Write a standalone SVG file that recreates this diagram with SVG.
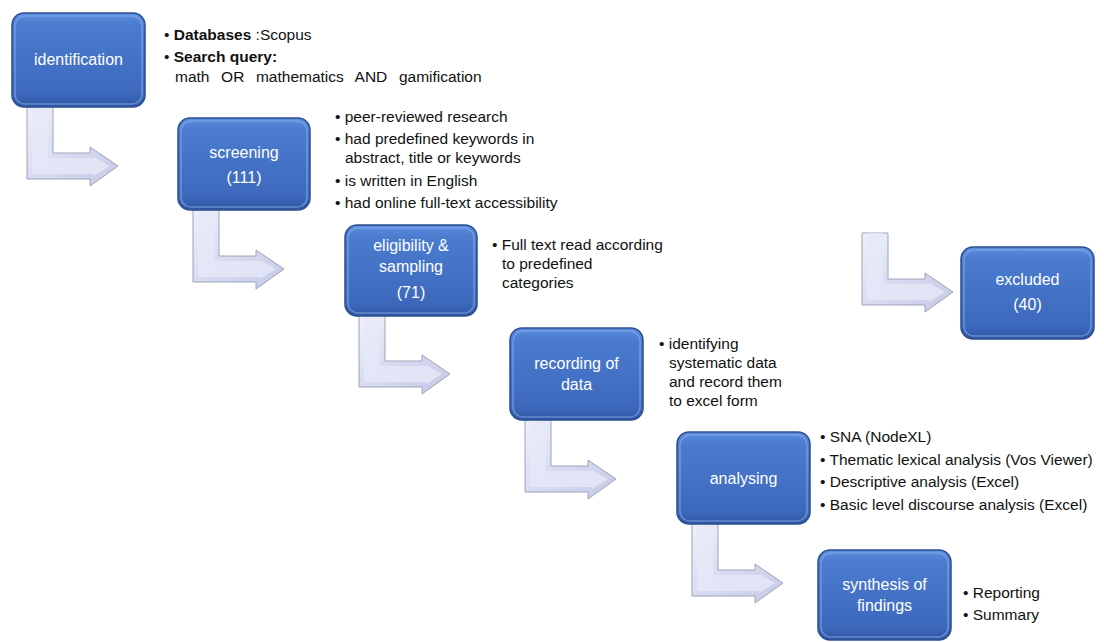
<svg xmlns="http://www.w3.org/2000/svg" xmlns:xlink="http://www.w3.org/1999/xlink" width="1104" height="642" viewBox="0 0 1104 642">
<defs>
<linearGradient id="boxg" x1="0" y1="0" x2="0" y2="1">
<stop offset="0" stop-color="#5d8fe0"/>
<stop offset="0.12" stop-color="#4b7ccf"/>
<stop offset="0.85" stop-color="#3d69bd"/>
<stop offset="1" stop-color="#2f56a2"/>
</linearGradient>
<linearGradient id="arrg" x1="0" y1="0" x2="1" y2="1">
<stop offset="0" stop-color="#eef0fb"/>
<stop offset="0.5" stop-color="#d7dbf1"/>
<stop offset="1" stop-color="#c4c9e6"/>
</linearGradient>
<path id="arr" d="M0,0 H26 V46 H63 V40 L91,59 L63,79 V72 H0 Z"/>
<path id="arrin" d="M5,0 H21 V51 H67 V50 L83,59 L67,69 V67 H5 Z"/>
</defs>
<style>
.box{fill:url(#boxg);stroke:#2b4e90;stroke-width:1.5}
.hl{fill:none;stroke:#8fb1ee;stroke-width:1.5;opacity:0.55}
.bt{font-family:"Liberation Sans",Arial,sans-serif;font-size:16px;fill:#ffffff;text-anchor:middle}
.tx{font-family:"Liberation Sans",Arial,sans-serif;font-size:15.5px;fill:#111111}
.b{font-weight:bold}
.ar{fill:url(#arrg);stroke:#9ea2b6;stroke-width:1}
.ai{fill:#e6e9f8;stroke:none;opacity:0.8}
</style>
<rect width="1104" height="642" fill="#ffffff"/>

<g id="connectors">
<g transform="translate(27,107)"><use xlink:href="#arr" class="ar"/><use xlink:href="#arrin" class="ai"/></g>
<g transform="translate(193,210)"><use xlink:href="#arr" class="ar"/><use xlink:href="#arrin" class="ai"/></g>
<g transform="translate(359,315)"><use xlink:href="#arr" class="ar"/><use xlink:href="#arrin" class="ai"/></g>
<g transform="translate(525,420)"><use xlink:href="#arr" class="ar"/><use xlink:href="#arrin" class="ai"/></g>
<g transform="translate(692,524)"><use xlink:href="#arr" class="ar"/><use xlink:href="#arrin" class="ai"/></g>
<g transform="translate(862,233)"><use xlink:href="#arr" class="ar"/><use xlink:href="#arrin" class="ai"/></g>
</g>

<g id="identification">
<rect class="box" x="12" y="13" width="133" height="94" rx="12"/>
<rect class="hl" x="15" y="16" width="127" height="88" rx="10"/>
<text class="bt" x="78.5" y="65">identification</text>
<text class="tx" x="164" y="40">• <tspan class="b">Databases</tspan> :Scopus</text>
<text class="tx" x="164" y="62">• <tspan class="b">Search query:</tspan></text>
<text class="tx" x="175" y="82" xml:space="preserve" word-spacing="1.5">math  OR  mathematics  AND  gamification</text>
</g>

<g id="screening">
<rect class="box" x="178" y="118" width="132" height="92" rx="12"/>
<rect class="hl" x="181" y="121" width="126" height="86" rx="10"/>
<text class="bt" x="244" y="158">screening</text>
<text class="bt" x="244" y="183">(111)</text>
<text class="tx" x="335" y="122">• peer-reviewed research</text>
<text class="tx" x="335" y="144">• had predefined keywords in</text>
<text class="tx" x="345" y="163">abstract, title or keywords</text>
<text class="tx" x="335" y="186">• is written in English</text>
<text class="tx" x="335" y="208">• had online full-text accessibility</text>
</g>

<g id="eligibility">
<rect class="box" x="345" y="225" width="132" height="91" rx="12"/>
<rect class="hl" x="348" y="228" width="126" height="85" rx="10"/>
<text class="bt" x="411" y="251">eligibility &amp;</text>
<text class="bt" x="411" y="272">sampling</text>
<text class="bt" x="411" y="298">(71)</text>
<text class="tx" x="492" y="250">• Full text read according</text>
<text class="tx" x="502" y="269">to predefined</text>
<text class="tx" x="502" y="288">categories</text>
</g>

<g id="recording">
<rect class="box" x="510" y="328" width="133" height="92" rx="12"/>
<rect class="hl" x="513" y="331" width="127" height="86" rx="10"/>
<text class="bt" x="576.5" y="369">recording of</text>
<text class="bt" x="576.5" y="390">data</text>
<text class="tx" x="659" y="349">• identifying</text>
<text class="tx" x="669" y="368">systematic data</text>
<text class="tx" x="669" y="387">and record them</text>
<text class="tx" x="669" y="406">to excel form</text>
</g>

<g id="analysing">
<rect class="box" x="677" y="432" width="133" height="92" rx="12"/>
<rect class="hl" x="680" y="435" width="127" height="86" rx="10"/>
<text class="bt" x="743.5" y="484">analysing</text>
<text class="tx" x="820" y="442">• SNA (NodeXL)</text>
<text class="tx" x="820" y="465">• Thematic lexical analysis (Vos Viewer)</text>
<text class="tx" x="820" y="487">• Descriptive analysis (Excel)</text>
<text class="tx" x="820" y="510">• Basic level discourse analysis (Excel)</text>
</g>

<g id="synthesis">
<rect class="box" x="818" y="550" width="133" height="90" rx="12"/>
<rect class="hl" x="821" y="553" width="127" height="84" rx="10"/>
<text class="bt" x="884.5" y="590">synthesis of</text>
<text class="bt" x="884.5" y="611">findings</text>
<text class="tx" x="963" y="598">• Reporting</text>
<text class="tx" x="963" y="620">• Summary</text>
</g>

<g id="excluded">
<rect class="box" x="961" y="247" width="133" height="92" rx="12"/>
<rect class="hl" x="964" y="250" width="127" height="86" rx="10"/>
<text class="bt" x="1027.5" y="285">excluded</text>
<text class="bt" x="1027.5" y="310">(40)</text>
</g>
</svg>
